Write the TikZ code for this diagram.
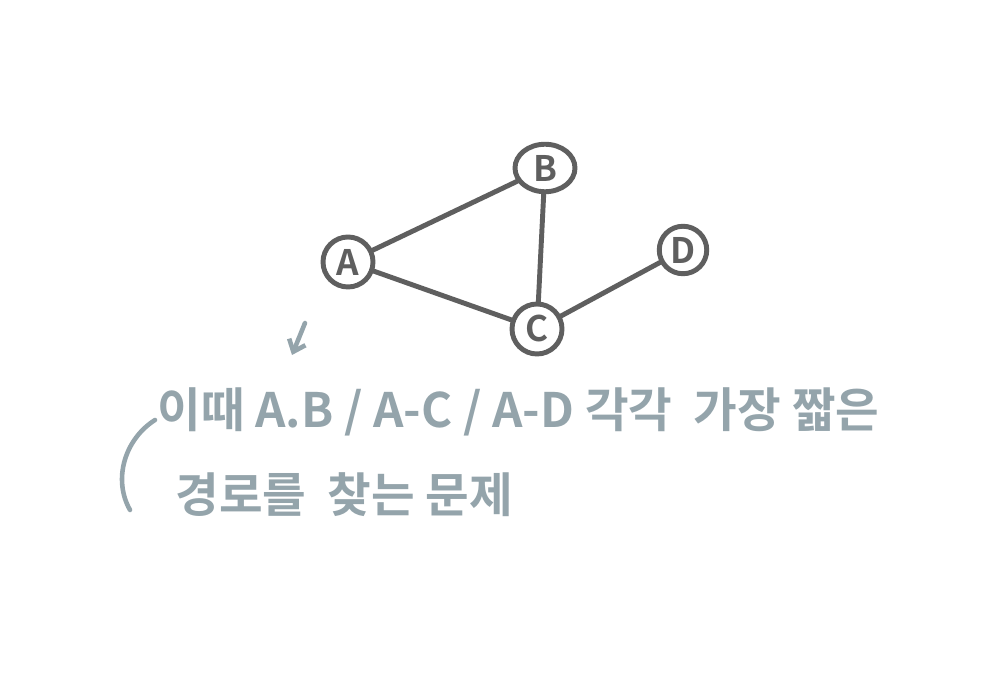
\documentclass[tikz,border=0pt]{standalone}
\usepackage{fontspec}
\setmainfont{Noto Sans CJK KR}[BoldFont={* Bold}]
\usetikzlibrary{positioning,arrows.meta,shapes.geometric}
\definecolor{inkgray}{HTML}{5F5F5F}
\definecolor{notegray}{HTML}{94A4AB}

\begin{document}
\begin{tikzpicture}[
    vertex/.style = {
        circle, draw=inkgray, line width=2.8pt, text=inkgray,
        minimum size=1.0cm, inner sep=0pt,
        font=\bfseries\fontsize{20}{20}\selectfont
    },
    edge/.style = {draw=inkgray, line width=2.8pt, line cap=round},
    note/.style = {
        anchor=west, text=notegray, inner sep=0pt,
        font=\bfseries\fontsize{27}{27}\selectfont
    },
    notemark/.style = {draw=notegray, line width=2.6pt, line cap=round}
]
\useasboundingbox[fill=white] (0,0) rectangle (20,13.68);

% Graph
\node[vertex] (a) at (6.96,8.44) {A};
\node[vertex, ellipse, minimum width=1.2cm, minimum height=0.95cm] (b) at (10.9,10.32) {B};
\node[vertex] (c) at (10.74,7.1) {C};
\node[vertex, minimum size=0.95cm] (d) at (13.66,8.68) {D};

% Edges
\draw[edge] (a) -- (b);
\draw[edge] (b) -- (c);
\draw[edge] (a) -- (c);
\draw[edge] (c) -- (d);

% Note
\coordinate (tail) at (6.1,7.22);
\coordinate (tip) at (5.84,6.58);
\draw[notemark, -{Straight Barb[length=6pt, width=10pt]}] (tail) -- (tip);

\node[note] (line1) at (3.14,5.44) {이때 A.B / A-C / A-D 각각 \ 가장 짧은};
\node[note] (line2) at (3.5,3.78) {경로를 \ 찾는 문제};

\coordinate (btop) at (3.1,5.28);
\coordinate (bbot) at (2.6,3.48);
\draw[notemark] (btop) .. controls (2.5,4.9) and (2.25,4.1) .. (bbot);

\end{tikzpicture}
\end{document}
